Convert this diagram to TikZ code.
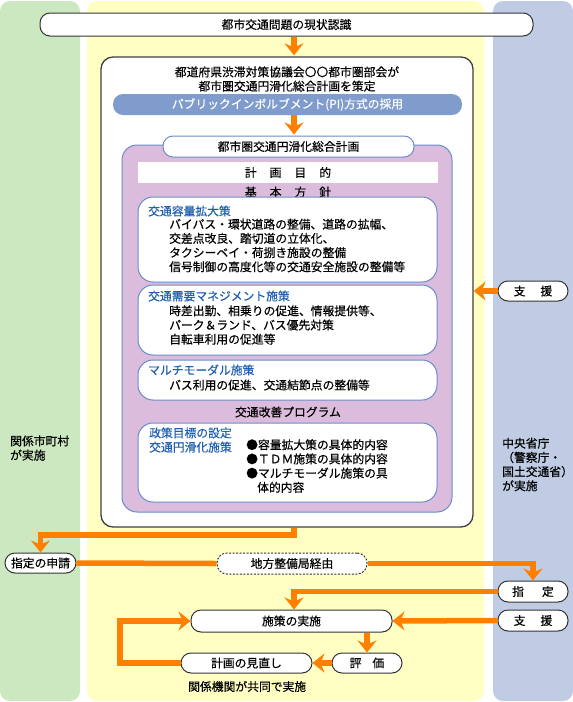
\documentclass[tikz,border=0pt]{standalone}
\usepackage{fontspec}
\setmainfont{Noto Sans CJK JP}[FakeBold=0.4]
\usetikzlibrary{arrows.meta,calc}
\definecolor{pgreen}{HTML}{CCE8C0}
\definecolor{pyellow}{HTML}{FFFFC4}
\definecolor{pblue}{HTML}{C0CCE4}
\definecolor{ppurple}{HTML}{DCBCDC}
\definecolor{bline}{HTML}{6B8CC8}
\definecolor{pifill}{HTML}{809CCC}
\definecolor{ttl}{HTML}{2060B0}
\definecolor{orng}{HTML}{FF8000}
\begin{document}
\begin{tikzpicture}[x=1pt,y=-1pt,
  every node/.style={font=\fontsize{11.8pt}{14.2pt}\selectfont, inner sep=0pt},
  pill/.style={draw=black!80, line width=1pt, fill=white, rounded corners=10pt, minimum height=21pt},
  ibox/.style={draw=bline, line width=1pt, fill=white, rounded corners=15pt},
  lbl/.style={anchor=west, align=left},
  ttlt/.style={anchor=west, text=ttl, align=left},
  flow/.style={draw=orng, line width=5.5pt, -{Stealth[length=12pt,width=19pt,inset=4pt]}},
  flowline/.style={draw=orng, line width=5.5pt},
]
\useasboundingbox (0,0) rectangle (573,702);
% panels
\fill[pgreen, rounded corners=10pt] (0,1) rectangle (80,701);
\fill[pyellow, rounded corners=10pt] (87,1) rectangle (484,701);
\fill[pblue, rounded corners=10pt] (493,1) rectangle (573,701);

\coordinate (ax) at (294,0);
\coordinate (loopx) at (120,0);
\coordinate (j1) at (294,535);

\node[pill, minimum width=493pt, minimum height=23pt] (top) at (286.5,24.5) {都市交通問題の現状認識};

\node[draw=black!75, line width=1.3pt, fill=white, rounded corners=12pt, minimum width=372pt, minimum height=470pt] (bigbox) at (287,292) {};
\node[align=center] (plan) at (287,79) {都道府県渋滞対策協議会〇〇都市圏部会が\\都市圏交通円滑化総合計画を策定};
\node[fill=pifill, rounded corners=10pt, minimum width=349pt, minimum height=21pt, text=white] (pi) at (287.5,104.5) {パブリックインボルブメント(PI)方式の採用};

\node[draw=bline, line width=1pt, fill=ppurple, rounded corners=15pt, minimum width=330pt, minimum height=367pt] (purple) at (287,328.5) {};
\node[pill, draw=bline, minimum width=251pt] (cityplan) at (288.5,146.5) {都市圏交通円滑化総合計画};
\node[fill=white, minimum width=300pt, minimum height=21pt] (purpose) at (288,172.5) {計\hspace{13pt}画\hspace{13pt}目\hspace{13pt}的};
\node (policy) at (288,192) {基\hspace{13pt}本\hspace{13pt}方\hspace{13pt}針};

\node[ibox, minimum width=299pt, minimum height=85pt] (box1) at (287.5,239.5) {};
\node[ttlt] (t1) at (148,211) {交通容量拡大策};
\node[lbl] (d1) at (169,245.5) {バイパス・環状道路の整備、道路の拡幅、\\交差点改良、踏切道の立体化、\\タクシーベイ・荷捌き施設の整備\\信号制御の高度化等の交通安全施設の整備等};

\node[ibox, minimum width=299pt, minimum height=70pt] (box2) at (287.5,320) {};
\node[ttlt] (t2) at (148,296) {交通需要マネジメント施策};
\node[lbl] (d2) at (169,325) {時差出勤、相乗りの促進、情報提供等、\\パーク＆ランド、バス優先対策\\自転車利用の促進等};

\node[ibox, minimum width=299pt, minimum height=40pt] (box3) at (287.5,380) {};
\node[ttlt] (t3) at (148,370) {マルチモーダル施策};
\node[lbl] (d3) at (169,385) {バス利用の促進、交通結節点の整備等};

\node (prog) at (288,412) {交通改善プログラム};

\node[ibox, minimum width=299pt, minimum height=79pt] (box4) at (287.5,462.5) {};
\node[ttlt] (t4) at (149,440) {政策目標の設定\\交通円滑化施策};
\node[lbl] (d4) at (246,466) {●容量拡大策の具体的内容\\●ＴＤＭ施策の具体的内容\\●マルチモーダル施策の具\\\hspace*{11pt}体的内容};

% side texts
\node[lbl] (munic) at (10,448) {関係市町村\\が実施};
\node[lbl] (central) at (502,464.5) {中央省庁\\（警察庁・\\国土交通省）\\が実施};

% lower pills
\node[pill, minimum width=71pt, minimum height=20pt] (apply) at (40.5,563) {指定の申請};
\node[pill, dash pattern=on 2pt off 1.5pt, minimum width=150pt] (via) at (292,563.5) {地方整備局経由};
\node[pill, minimum width=70pt] (designate) at (533,591.5) {指\hspace{18pt}定};
\node[pill, minimum width=70pt] (support2) at (533,620.5) {支\hspace{15pt}援};
\node[pill, minimum width=70pt, minimum height=20pt] (support1) at (533,291) {支\hspace{15pt}援};
\node[pill, minimum width=201pt, minimum height=22pt] (impl) at (291.5,621) {施策の実施};
\node[pill, minimum width=70pt, minimum height=20pt] (eval) at (367,663) {評\hspace{11pt}価};
\node[pill, minimum width=131pt, minimum height=20pt] (review) at (246.5,663) {計画の見直し};
\node[anchor=west] (joint) at (188,686.5) {関係機関が共同で実施};

% connectors
\draw[flow, shorten >=1pt] (top.south -| ax) -- (bigbox.north -| ax);
\draw[flow, shorten >=1pt] (pi.south -| ax) -- (cityplan.north -| ax);
\draw[flow] (bigbox.south -| ax) -- (j1) -| (apply.north);
\draw[flowline] (apply.east) -- (via.west);
\draw[flow] (via.east) -| (designate.north);
\draw[flow] (designate.west) -| (impl.north -| ax);
\draw[flow] (support2.west) -- (impl.east);
\draw[flow] (impl.south -| eval.north) -- (eval.north);
\draw[flow] (eval.west) -- (review.east);
\draw[flow] (review.west) -- (review.west -| loopx) |- (impl.west);
\draw[flow] (support1.west) -- (bigbox.east |- support1.west);
\end{tikzpicture}
\end{document}
